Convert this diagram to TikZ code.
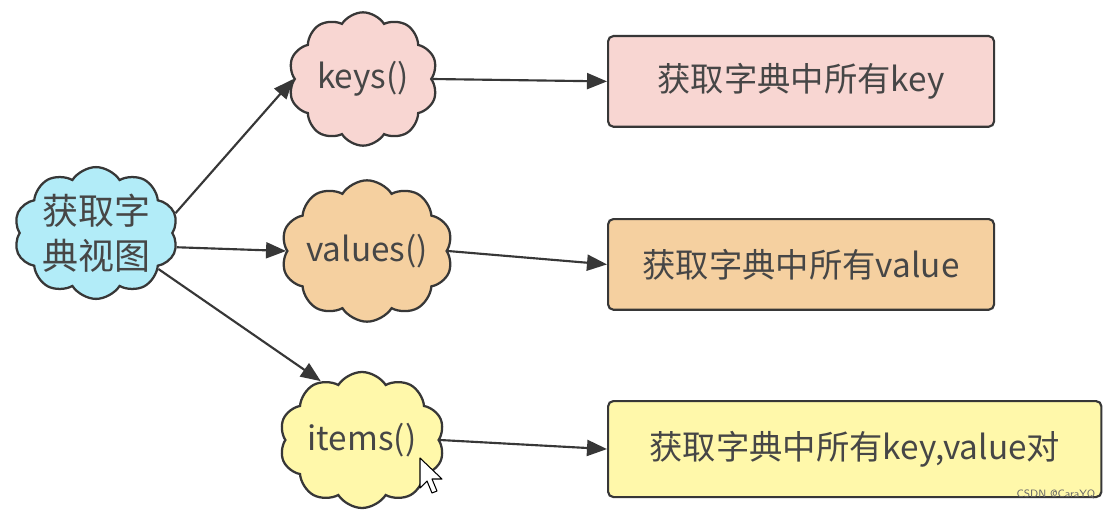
\documentclass[tikz,border=0pt]{standalone}
\usepackage{fontspec}
\setmainfont{Noto Sans CJK SC}
\usetikzlibrary{shapes.symbols,arrows.meta}
\definecolor{cyanfill}{RGB}{178,236,248}
\definecolor{pinkfill}{RGB}{248,214,210}
\definecolor{orangefill}{RGB}{245,208,160}
\definecolor{yellowfill}{RGB}{255,248,170}
\definecolor{edge}{RGB}{55,55,55}
\definecolor{txt}{RGB}{70,70,70}
\tikzset{
  puff/.style={cloud, cloud puffs=10, cloud puff arc=115, cloud ignores aspect,
    draw=edge, line width=1.7pt, text=txt, font=\fontsize{25}{34}\selectfont,
    inner sep=0pt, align=center},
  infobox/.style={draw=edge, line width=1.6pt, rounded corners=4pt, text=txt,
    font=\fontsize{25}{30}\selectfont, inner sep=0pt, anchor=north west},
  link/.style={draw=edge, line width=1.6pt, -{Triangle[length=15pt,width=12pt]}}
}
\begin{document}
\begin{tikzpicture}[x=0.75pt,y=-0.75pt]
\useasboundingbox (0,0) rectangle (1114,510);
\fill[white] (0,0) rectangle (1114,510);
% clouds
\node[puff, fill=cyanfill, minimum width=120pt, minimum height=98pt, font=\fontsize{27}{34}\selectfont] (c) at (96,233) {获取字\\典视图};
\node[puff, fill=pinkfill, minimum width=112pt, minimum height=100pt] (k) at (363,79) {keys()};
\node[puff, fill=orangefill, minimum width=120pt, minimum height=106pt] (v) at (367,251) {values()};
\node[puff, fill=yellowfill, minimum width=124pt, minimum height=102pt] (i) at (362,440) {items()};
% boxes
\node[infobox, fill=pinkfill, minimum width=289.5pt, minimum height=68pt] (b1) at (607,35) {获取字典中所有key};
\node[infobox, fill=orangefill, minimum width=289.5pt, minimum height=68pt] (b2) at (607,218) {获取字典中所有value};
\node[infobox, fill=yellowfill, minimum width=370pt, minimum height=72pt] (b3) at (607,400) {获取字典中所有key,value对};
% arrows
\draw[link] (c.14) -- (k.west);
\draw[link] (c.-10) -- (v.west);
\draw[link] (c.-30) -- (i.125);
\draw[link] (k.east) -- (b1.west);
\draw[link] (v.east) -- (b2.west);
\draw[link] (i.east) -- (b3.west);
% mouse cursor
\filldraw[fill=white, draw=black, line width=0.8pt, line join=round]
  (420,458) -- ++(0,30) -- ++(7,-7) -- ++(5,12) -- ++(5,-2) -- ++(-5,-12) -- ++(10,0) -- cycle;
% watermark
\node[font=\sffamily\fontsize{8}{9}\selectfont, text=black!60, anchor=east] (wm) at (1100,494) {CSDN @CaraYQ};
\end{tikzpicture}
\end{document}
